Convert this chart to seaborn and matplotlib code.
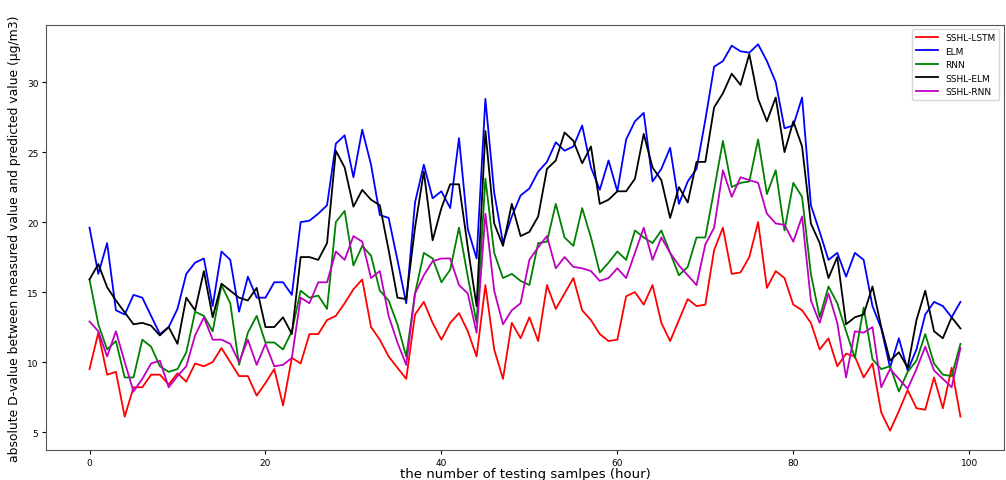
import matplotlib
matplotlib.use("Agg")
import matplotlib.pyplot as plt
import seaborn as sns
import pandas as pd
import numpy as np

hours = list(range(100))

sshl_lstm = [9.5, 12.1, 9.1, 9.3, 6.1, 8.2, 8.2, 9.1, 9.1, 8.4, 9.2, 8.6, 9.9, 9.7, 10.0, 11.0, 10.0, 9.0, 9.0, 7.6, 8.5,
             9.5, 6.9, 10.3, 9.9, 12.0, 12.0, 13.0, 13.3, 14.2, 15.2, 15.9, 12.5, 11.6, 10.4, 9.6, 8.8, 13.4, 14.3, 12.8, 11.6,
             12.8, 13.5, 12.2, 10.4, 15.5, 10.9, 8.8, 12.8, 11.7, 13.2, 11.5, 15.5, 13.8, 14.9, 16.0, 13.7, 13.0, 12.0, 11.5, 11.6,
             14.7, 15.0, 14.1, 15.5, 12.8, 11.5, 13.0, 14.5, 14.0, 14.1, 18.0, 19.6, 16.3, 16.4, 17.5, 20.0, 15.3, 16.5, 16.0, 14.1,
             13.7, 12.8, 10.9, 11.7, 9.7, 10.6, 10.4, 8.9, 9.9, 6.4, 5.1, 6.5, 8.0, 6.7, 6.6, 8.9, 6.7, 9.6, 6.1]

elm = [19.6, 16.3, 18.5, 13.7, 13.4, 14.8, 14.6, 13.3, 12.0, 12.5, 13.8, 16.3, 17.1, 17.4, 14.0, 17.9, 17.3, 13.6, 16.1, 14.6, 14.6,
       15.7, 15.7, 14.8, 20.0, 20.1, 20.6, 21.2, 25.6, 26.2, 23.2, 26.6, 24.1, 20.5, 20.3, 17.3, 14.2, 21.4, 24.1, 21.7, 22.2,
       21.0, 26.0, 19.5, 17.4, 28.8, 22.1, 18.5, 20.4, 21.9, 22.4, 23.6, 24.3, 25.7, 25.1, 25.4, 26.9, 23.9, 22.3, 24.4, 22.2,
       25.9, 27.2, 27.8, 22.9, 23.8, 25.3, 21.3, 22.9, 23.8, 27.3, 31.1, 31.5, 32.6, 32.2, 32.1, 32.7, 31.5, 30.0, 26.7, 26.9,
       28.9, 21.2, 19.3, 17.3, 17.8, 16.1, 17.8, 17.3, 14.0, 12.4, 9.6, 11.7, 9.4, 10.9, 13.4, 14.3, 14.0, 13.2, 14.3]

rnn = [15.9, 12.7, 10.9, 11.5, 8.9, 8.9, 11.6, 11.1, 9.7, 9.3, 9.5, 10.7, 13.6, 13.3, 12.2, 15.5, 14.2, 9.8, 12.1, 13.3, 11.4,
       11.4, 10.9, 12.2, 15.1, 14.6, 14.75, 13.8, 20.0, 20.8, 16.9, 18.3, 17.6, 15.1, 14.4, 12.7, 10.4, 14.9, 17.8, 17.4, 15.7,
       16.6, 19.6, 16.1, 12.8, 23.1, 17.8, 16.0, 16.3, 15.8, 15.5, 18.5, 18.6, 21.3, 18.9, 18.3, 21.0, 18.9, 16.4, 17.1, 17.9,
       17.3, 19.4, 18.9, 18.5, 19.4, 17.8, 16.2, 16.8, 18.9, 18.9, 22.3, 25.8, 22.5, 22.8, 22.9, 25.9, 22.0, 23.7, 19.4, 22.8,
       21.8, 16.3, 13.2, 15.4, 14.2, 12.2, 10.3, 13.9, 10.2, 9.5, 9.7, 7.9, 9.3, 10.1, 12.0, 9.9, 9.1, 9.0, 11.3]

sshl_elm = [15.9, 17.0, 15.35, 14.4, 13.55, 12.7, 12.8, 12.6, 11.9, 12.5, 11.3, 14.6, 13.7, 16.5, 13.2, 15.6, 15.1, 14.6, 14.4, 15.3, 12.5,
            12.5, 13.2, 12.0, 17.5, 17.5, 17.3, 18.5, 25.1, 23.9, 21.1, 22.3, 21.6, 21.2, 18.0, 14.6, 14.5, 19.6, 23.6, 18.7, 21.0,
            22.7, 22.7, 18.2, 14.0, 26.5, 19.9, 18.3, 21.3, 19.0, 19.3, 20.4, 23.8, 24.4, 26.4, 25.8, 24.2, 25.4, 21.3, 21.6, 22.2,
            22.2, 23.1, 26.3, 23.9, 23.0, 20.3, 22.5, 21.4, 24.3, 24.3, 28.2, 29.2, 30.6, 29.8, 32.0, 28.8, 27.2, 28.9, 25.0, 27.2,
            25.4, 19.9, 18.5, 16.0, 17.5, 12.7, 13.2, 13.4, 15.4, 12.5, 10.1, 10.7, 9.6, 13.0, 15.1, 12.2, 11.7, 13.2, 12.4]

sshl_rnn = [12.9, 12.2, 10.4, 12.2, 10.0, 7.9, 8.8, 9.9, 10.1, 8.2, 9.0, 9.7, 11.9, 13.2, 11.6, 11.6, 11.3, 10.0, 11.6, 9.8, 11.3,
            9.7, 9.8, 10.3, 14.6, 14.2, 15.7, 15.7, 17.9, 17.3, 19.0, 18.6, 16.0, 16.5, 13.3, 11.4, 9.8, 14.9, 16.2, 17.2, 17.4,
            17.4, 15.5, 14.9, 12.1, 20.6, 15.1, 12.7, 13.7, 14.2, 17.3, 18.2, 19.0, 16.7, 17.5, 16.8, 16.7, 16.5, 15.8, 16.0, 16.7,
            16.0, 17.8, 19.6, 17.3, 18.9, 17.8, 16.9, 16.2, 15.5, 18.4, 19.6, 23.7, 21.8, 23.2, 23.0, 22.8, 20.6, 19.9, 19.8, 18.6,
            20.4, 14.4, 12.8, 14.9, 12.8, 8.9, 12.2, 12.1, 12.5, 8.2, 9.5, 8.8, 8.1, 9.5, 11.1, 9.4, 8.8, 8.2, 11.0]

series_names = ["SSHL-LSTM", "ELM", "RNN", "SSHL-ELM", "SSHL-RNN"]
series_values = [sshl_lstm, elm, rnn, sshl_elm, sshl_rnn]
series_colors = ["r", "b", "g", "k", "m"]

frames = []
for name, vals in zip(series_names, series_values):
    frames.append(pd.DataFrame({"hour": hours, "value": vals, "model": name}))
df = pd.concat(frames, ignore_index=True)

fig = plt.figure(figsize=(10.06, 4.81), dpi=100)
ax = fig.add_axes([0.0457, 0.0624, 0.9523, 0.8836])

sns.lineplot(data=df, x="hour", y="value", hue="model", hue_order=series_names,
             palette=dict(zip(series_names, series_colors)), linewidth=1.3, ax=ax)

ax.set_xticks([0, 20, 40, 60, 80, 100])
ax.set_yticks([5, 10, 15, 20, 25, 30])
ax.tick_params(labelsize=6.5, length=3, pad=2.5)
for s in ax.spines.values():
    s.set_color("#555555")
ax.set_xlabel("the number of testing samlpes (hour)", fontsize=9.5, labelpad=0.5)
ax.set_ylabel("absolute D-value between measured value and predicted value (\u03bcg/m3)", fontsize=8.9, labelpad=4)
ax.legend(loc="upper right", fontsize=6.5, title=None, handlelength=2.5)

fig.savefig("out.png", dpi=100)
